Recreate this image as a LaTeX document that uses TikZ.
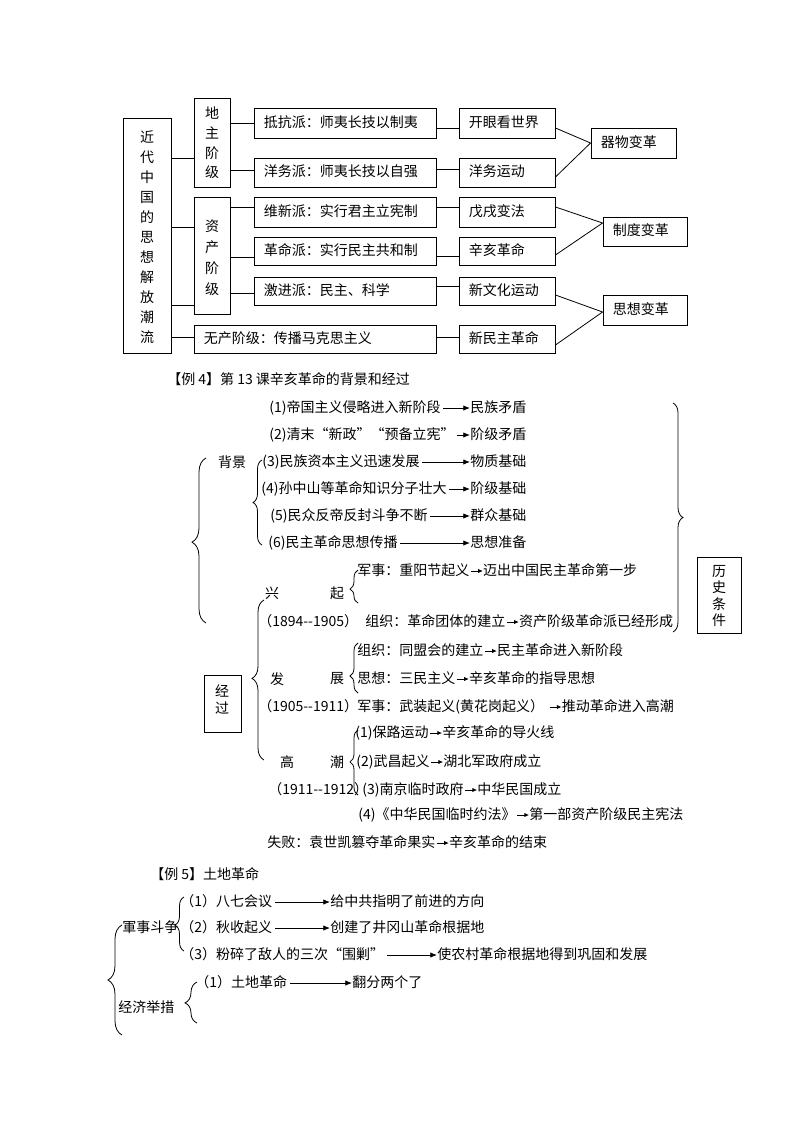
\documentclass[tikz,border=0pt]{standalone}
\usepackage{fontspec}
\setmainfont{Noto Sans CJK SC}
\usetikzlibrary{fit,arrows.meta,decorations.pathreplacing}
\newcommand\myfs{\fontsize{10.5pt}{12pt}\selectfont}
\newcommand\lbx[6]{\node[box, fit={(#2,#3)(#4,#5)}] (#1) {};\node[txt, anchor=west] (#1t) at ([xshift=7.5pt]#1.west) {#6};}
\newcommand\hcon[3]{\draw[ln] (#1.east |- 0,#3) -- (#2.west |- 0,#3);}
% left brace: x, top, bottom, aspect (from bottom), amplitude
\newcommand\lbrc[5]{\draw[brc, decoration={brace, amplitude=#5, aspect=#4}] (#1,#3) -- (#1,#2);}
\begin{document}
\begin{tikzpicture}[x=0.75pt,y=-0.75pt,
 every node/.style={font=\myfs, inner sep=0pt},
 box/.style={draw, line width=0.7pt, inner sep=0pt},
 txt/.style={inner sep=0pt, text height=8.5pt, text depth=2pt},
 ln/.style={line width=0.6pt},
 larr/.style={line width=0.6pt, -{Latex[length=5pt,width=4pt]}},
 sarr/.style={line width=0.5pt, -{Latex[length=3.5pt,width=3pt]}},
 brc/.style={decorate, line width=0.6pt},
 vt/.style={align=center, inner sep=0pt}]
\path[fill=white] (0,0) rectangle (794,1123);
\useasboundingbox (0,0) rectangle (794,1123);

% ---------------- Part 1 ----------------
\node[box, fit={(123,118)(171,353)}] (jd) {};
\node[vt, font=\fontsize{10.5pt}{15pt}\selectfont] (jdt) at (147,237) {近\\代\\中\\国\\的\\思\\想\\解\\放\\潮\\流};
\node[box, fit={(194,98)(230,187)}] (dz) {};
\node[vt, font=\fontsize{10.5pt}{14.8pt}\selectfont] (dzt) at (212,143) {地\\主\\阶\\级};
\node[box, fit={(194,197)(230,314)}] (zc) {};
\node[vt, font=\fontsize{10.5pt}{15.75pt}\selectfont] (zct) at (212,258) {资\\产\\阶\\级};

\lbx{dk}{254}{108}{436}{138}{抵抗派：师夷长技以制夷}
\lbx{yw}{254}{158}{436}{187}{洋务派：师夷长技以自强}
\lbx{wx}{254}{197}{436}{227}{维新派：实行君主立宪制}
\lbx{gm}{254}{237}{436}{265}{革命派：实行民主共和制}
\lbx{jj}{254}{277}{436}{305}{激进派：民主、科学}
\lbx{wc}{194}{325}{436}{353}{无产阶级：传播马克思主义}

\lbx{kx}{459}{108}{555}{138}{开眼看世界}
\lbx{yd}{459}{158}{555}{187}{洋务运动}
\lbx{wf}{459}{197}{555}{227}{戊戌变法}
\lbx{xh}{459}{237}{555}{265}{辛亥革命}
\lbx{xw}{459}{277}{555}{305}{新文化运动}
\lbx{xm}{459}{325}{555}{353}{新民主革命}

\lbx{qw}{591}{128}{676}{158}{器物变革}
\lbx{zd}{603}{217}{687}{246}{制度变革}
\lbx{sx}{603}{295}{687}{325}{思想变革}

\hcon{jd}{dz}{158}
\hcon{jd}{zc}{227}
\hcon{jd}{zc}{305}
\hcon{jd}{wc}{337}
\hcon{dz}{dk}{123}
\hcon{dz}{yw}{170}
\hcon{zc}{wx}{207}
\hcon{zc}{gm}{257}
\hcon{zc}{jj}{293}
\hcon{dk}{kx}{128}
\hcon{yw}{yd}{169}
\hcon{wx}{wf}{207}
\hcon{gm}{xh}{256}
\hcon{jj}{xw}{286}
\hcon{wc}{xm}{337}
\draw[ln] (kx.east |- 0,128) -- (qw.west |- 0,143);
\draw[ln] (yd.east |- 0,177) -- (qw.west |- 0,143);
\draw[ln] (wf.east |- 0,207) -- (zd.west |- 0,223);
\draw[ln] (xh.east |- 0,255) -- (zd.west |- 0,223);
\draw[ln] (xw.east |- 0,295) -- (sx.west |- 0,312);
\draw[ln] (xm.east |- 0,345) -- (sx.west |- 0,312);

% ---------------- Part 2 ----------------
\node[txt, anchor=west] (l4) at (167,380) {【例 4】第 13 课辛亥革命的背景和经过};

\node[txt, anchor=west] (b1) at (269,408) {(1)帝国主义侵略进入新阶段};
\node[txt, anchor=west] (b1r) at (470,408) {民族矛盾};
\node[txt, anchor=west] (b2) at (269,435) {(2)清末“新政”“预备立宪”};
\node[txt, anchor=west] (b2r) at (470,435) {阶级矛盾};
\node[txt, anchor=west] (b3) at (262,462) {(3)民族资本主义迅速发展};
\node[txt, anchor=west] (b3r) at (470,462) {物质基础};
\node[txt, anchor=west] (b4) at (261,489) {(4)孙中山等革命知识分子壮大};
\node[txt, anchor=west] (b4r) at (470,489) {阶级基础};
\node[txt, anchor=west] (b5) at (270,516) {(5)民众反帝反封斗争不断};
\node[txt, anchor=west] (b5r) at (470,516) {群众基础};
\node[txt, anchor=west] (b6) at (268,543) {(6)民主革命思想传播};
\node[txt, anchor=west] (b6r) at (470,543) {思想准备};
\foreach \i in {1,...,6} {\draw[larr] ([xshift=2pt]b\i.east) -- (b\i r.west);}
\node (bj) at (232,462) {背景};
\lbrc{262}{460}{545}{0.5}{6.75pt}
\lbrc{206}{458}{623}{0.49}{10.5pt}
\draw[brc, decoration={brace, amplitude=7.5pt, aspect=0.5}] (673,403) -- (673,632);
\node[box, fit={(697,557)(741,633)}] (ls) {};
\node[vt, font=\fontsize{10.5pt}{12.2pt}\selectfont] (lst) at (719,596) {历\\史\\条\\件};

% 兴起
\node (xing) at (272,593) {兴};
\node (qi) at (337,593) {起};
\node[txt, anchor=west] (x1) at (357,571) {军事：重阳节起义};
\node[txt, anchor=west] (x1r) at ([xshift=10pt]x1.east) {迈出中国民主革命第一步};
\draw[sarr] ([xshift=1pt]x1.east) -- (x1r.west);
\node[txt, anchor=west] (y1) at (258,622) {（1894-{}-1905）};
\node[txt, anchor=west] (x2) at (365,622) {组织：革命团体的建立};
\node[txt, anchor=west] (x2r) at ([xshift=10pt]x2.east) {资产阶级革命派已经形成};
\draw[sarr] ([xshift=1pt]x2.east) -- (x2r.west);
\lbrc{358}{570}{603}{0.42}{6pt}

% 发展
\node[txt, anchor=west] (f1) at (357,651) {组织：同盟会的建立};
\node[txt, anchor=west] (f1r) at ([xshift=10pt]f1.east) {民主革命进入新阶段};
\draw[sarr] ([xshift=1pt]f1.east) -- (f1r.west);
\node (fa) at (277,679) {发};
\node (zh) at (337,679) {展};
\node[txt, anchor=west] (f2) at (357,679) {思想：三民主义};
\node[txt, anchor=west] (f2r) at ([xshift=10pt]f2.east) {辛亥革命的指导思想};
\draw[sarr] ([xshift=1pt]f2.east) -- (f2r.west);
\node[txt, anchor=west] (y2) at (258,707) {（1905-{}-1911）};
\node[txt, anchor=west] (f3) at (357,707) {军事：武装起义(黄花岗起义）};
\node[txt, anchor=west] (f3r) at ([xshift=13pt]f3.east) {推动革命进入高潮};
\draw[sarr] ([xshift=4pt]f3.east) -- (f3r.west);
\lbrc{358}{643}{693}{0.34}{6pt}

% 高潮
\node[txt, anchor=west] (g1) at (355,733) {(1)保路运动};
\node[txt, anchor=west] (g1r) at ([xshift=10pt]g1.east) {辛亥革命的导火线};
\draw[sarr] ([xshift=1pt]g1.east) -- (g1r.west);
\node (gao) at (287,762) {高};
\node (chao) at (337,762) {潮};
\node[txt, anchor=west] (g2) at (356,762) {(2)武昌起义};
\node[txt, anchor=west] (g2r) at ([xshift=10pt]g2.east) {湖北军政府成立};
\draw[sarr] ([xshift=1pt]g2.east) -- (g2r.west);
\node[txt, anchor=west] (y3) at (268,790) {（1911-{}-1912）};
\node[txt, anchor=west] (g3) at (362,790) {(3)南京临时政府};
\node[txt, anchor=west] (g3r) at ([xshift=10pt]g3.east) {中华民国成立};
\draw[sarr] ([xshift=1pt]g3.east) -- (g3r.west);
\node[txt, anchor=west] (g4) at (358,815) {(4)《中华民国临时约法》};
\node[txt, anchor=west] (g4r) at ([xshift=10pt]g4.east) {第一部资产阶级民主宪法};
\draw[sarr] ([xshift=1pt]g4.east) -- (g4r.west);
\lbrc{358}{730}{795}{0.51}{6pt}
\node[txt, anchor=west] (sb) at (267,843) {失败：袁世凯篡夺革命果实};
\node[txt, anchor=west] (sbr) at ([xshift=10pt]sb.east) {辛亥革命的结束};
\draw[sarr] ([xshift=1pt]sb.east) -- (sbr.west);

\lbrc{264}{600}{760}{0.51}{9pt}
\node[box, fit={(204,675)(241,732)}] (jg) {};
\node[vt, font=\fontsize{10.5pt}{12.75pt}\selectfont] (jgt) at (222,700) {经\\过};

% ---------------- Part 3 ----------------
\node[txt, anchor=west] (l5) at (150,875) {【例 5】土地革命};
\node[txt, anchor=west] (p1) at (180,902) {（1）八七会议};
\node[txt, anchor=west] (p1r) at (330,902) {给中共指明了前进的方向};
\node[txt, anchor=west] (p2) at (180,928) {（2）秋收起义};
\node[txt, anchor=west] (p2r) at (330,928) {创建了井冈山革命根据地};
\node[txt, anchor=west] (p3) at (180,955) {（3）粉碎了敌人的三次“围剿”};
\node[txt, anchor=west] (p3r) at (437,955) {使农村革命根据地得到巩固和发展};
\node[txt, anchor=west] (q1) at (195,983) {（1）土地革命};
\node[txt, anchor=west] (q1r) at (352,983) {翻分两个了};
\foreach \n in {p1,p2,p3,q1} {\draw[larr] ([xshift=2pt]\n.east) -- (\n r.west);}
\node[txt, anchor=west] (jsdz) at (122,928) {軍事斗争};
\node[txt, anchor=west] (jjjc) at (118,1008) {经济举措};
\lbrc{184}{897}{951}{0.48}{6.75pt}
\lbrc{197}{982}{1023}{0.49}{9pt}
\lbrc{122}{925}{1035}{0.5}{10.5pt}
\end{tikzpicture}
\end{document}
